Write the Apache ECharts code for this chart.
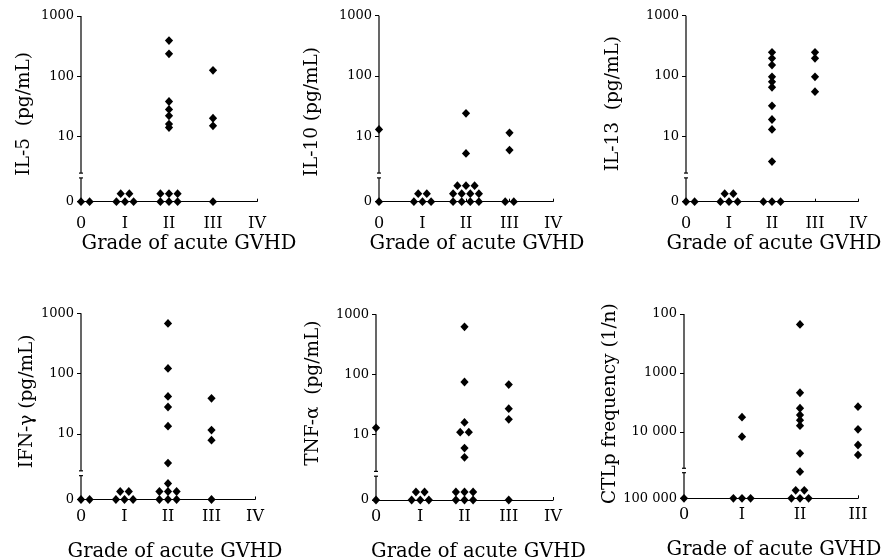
<!DOCTYPE html>
<html><head><meta charset="utf-8">
<script src="https://cdn.jsdelivr.net/npm/echarts@6/dist/echarts.min.js"></script>
<style>html,body{margin:0;padding:0;background:#fff}#c{width:886px;height:559px}</style>
</head><body><div id="c"></div>
<script>
// ---------- data ----------
const gradeLabels = ['0', 'I', 'II', 'III', 'IV'];
const ctlGradeLabels = ['0', 'I', 'II', 'III'];
const pgTickValues = [0, 10, 100, 1000];
const pgTickLabels = ['0', '10', '100', '1000'];
const ctlTickValues = [100, 1000, 10000, 100000];
const ctlTickLabels = ['100', '1000', '10 000', '100 000'];
const xTitle = 'Grade of acute GVHD';

// values per GVHD grade (0, I, II, III); 0 = undetectable
const il5 = [[0, 0], [0, 0, 0, 0, 0], [390, 235, 38, 28, 22, 16, 14, 0, 0, 0, 0, 0, 0], [125, 20, 15, 0]];
const il10 = [[13, 0], [0, 0, 0, 0, 0], [24, 5.2, 0, 0, 0, 0, 0, 0, 0, 0, 0, 0, 0], [11.4, 5.9, 0, 0]];
const il13 = [[0, 0], [0, 0, 0, 0, 0], [247, 196, 152, 97, 80, 65, 32, 19, 13, 3.8, 0, 0, 0], [247, 196, 97, 55]];
const ifng = [[0, 0], [0, 0, 0, 0, 0], [680, 122, 42, 28, 13.5, 3.3, 0, 0, 0, 0, 0, 0, 0], [39, 11.6, 7.9, 0]];
const tnfa = [[13, 0], [0, 0, 0, 0, 0], [620, 75, 16, 11, 11, 6, 4.2, 0, 0, 0, 0, 0, 0], [68, 27, 18, 0]];
// CTLp frequency, 1/n (n values); 100000 = below detection
const ctlp = [[100000], [5600, 12000, 100000, 100000, 100000],
  [150, 2160, 3960, 5150, 6300, 7820, 23000, 47000, 100000, 100000, 100000, 100000, 100000],
  [3720, 9000, 16600, 24500]];

// ---------- axis transforms (broken log axes) ----------
const ZERO_POS = -0.085, PG_BREAK = [0.39, 0.31];
const FLOOR_POS = 5.124, CTL_BREAK = [4.615, 4.69];
const pgToAxis = v => v <= 0 ? ZERO_POS : Math.log10(v);
const ctlToAxis = v => v >= 100000 ? FLOOR_POS : Math.log10(v);

const COL_GAP = 8.6, ROW_GAP = 8;

// dot-plot layout of identical values: rows centred on the category
function layoutGroups(groups, toAxis) {
  const out = [];
  groups.forEach((vals, c) => {
    const counts = new Map();
    vals.forEach(v => counts.set(v, (counts.get(v) || 0) + 1));
    counts.forEach((n, v) => {
      const perRow = Math.max(3, Math.ceil(Math.sqrt(n)));
      let left = n, row = 0;
      const widest = Math.min(n, perRow);
      const shift = c === 0 ? (widest - 1) / 2 : 0;
      while (left > 0) {
        const k = Math.min(perRow, left);
        for (let j = 0; j < k; j++) out.push([c, toAxis(v), j - (k - 1) / 2 + shift, row]);
        left -= k; row++;
      }
    });
  });
  return out;
}

const panels = [
  { vals: il5, name: 'IL-5  (pg/mL)', grid: [81, 16, 176, 185.7], yGap: 47, yShift: 5, xShift: 20, xGap: 32 },
  { vals: il10, name: 'IL-10 (pg/mL)', grid: [379, 15.7, 174, 186], yGap: 57, yShift: 3, xShift: 11, xGap: 32 },
  { vals: il13, name: 'IL-13  (pg/mL)', grid: [686, 15.7, 172, 186], yGap: 63, yShift: -5, xShift: 2, xGap: 32 },
  { vals: ifng, name: 'IFN-\u03b3 (pg/mL)', grid: [81, 313.3, 174, 186.2], yGap: 43, yShift: -5, xShift: 7, xGap: 42 },
  { vals: tnfa, name: 'TNF-\u03b1  (pg/mL)', grid: [376, 314.3, 177, 185.7], yGap: 53, yShift: -14, xShift: 14, xGap: 42 },
  { vals: ctlp, name: 'CTLp frequency (1/n)', grid: [684, 314, 174, 184.3], yGap: 60, yShift: -2.5, xShift: 3, xGap: 42, ctl: true }
];

const FONT = 'DejaVu Serif';
const grids = [], xAxes = [], yAxes = [], series = [];

function diamond(x, y) {
  return [[x, y - 4.4], [x + 4.1, y], [x, y + 4.4], [x - 4.1, y]];
}

panels.forEach((p, i) => {
  const ctl = !!p.ctl;
  const toAxis = ctl ? ctlToAxis : pgToAxis;
  const cats = ctl ? ctlGradeLabels : gradeLabels;
  const tickVals = ctl ? ctlTickValues : pgTickValues;
  const tickLabs = ctl ? ctlTickLabels : pgTickLabels;
  const axisTicks = tickVals.map(toAxis);
  const yMin = ctl ? 2 : ZERO_POS;
  const yMax = ctl ? FLOOR_POS : 3;
  const yTopVal = ctl ? 2 : 3, yBotVal = ctl ? FLOOR_POS : ZERO_POS;
  const brk = ctl ? CTL_BREAK : PG_BREAK;
  const xMax = cats.length - 1;

  grids.push({ left: p.grid[0], top: p.grid[1], width: p.grid[2], height: p.grid[3],
    containLabel: false, outerBoundsMode: 'none' });
  const ys = p.yShift;
  xAxes.push({
    gridIndex: i, type: 'value', min: 0, max: xMax, interval: 1,
    axisLine: { show: true, onZero: false, lineStyle: { color: '#000', width: 1.2 } },
    axisTick: { show: true, inside: true, length: 3, lineStyle: { color: '#000', width: 1 } },
    axisLabel: { margin: i < 3 ? 14 : 9, color: '#000', fontFamily: FONT, fontSize: 16,
      formatter: v => cats[Math.round(v)] },
    splitLine: { show: false },
    name: xTitle, nameLocation: 'middle', nameGap: p.xGap,
    nameTextStyle: { color: '#000', fontFamily: FONT, fontSize: 19.5, padding: [0, 0, 0, 2 * p.xShift] }
  });
  yAxes.push({
    gridIndex: i, type: 'value', min: yMin, max: yMax, inverse: ctl,
    axisLine: { show: false },
    axisTick: { show: true, length: 4, customValues: axisTicks, lineStyle: { color: '#000', width: 1 } },
    axisLabel: { customValues: axisTicks, margin: 7, color: '#000', fontFamily: FONT, fontSize: 13,
      formatter: v => {
        let best = 0, d = Infinity;
        axisTicks.forEach((t, k) => { if (Math.abs(t - v) < d) { d = Math.abs(t - v); best = k; } });
        return tickLabs[best];
      } },
    splitLine: { show: false },
    name: p.name, nameLocation: 'middle', nameGap: p.yGap,
    nameTextStyle: { color: '#000', fontFamily: FONT, fontSize: 18.5,
      padding: ys >= 0 ? [0, 2 * ys, 0, 0] : [0, 0, 0, -2 * ys] }
  });

  // y axis line with a break
  series.push({
    type: 'custom', xAxisIndex: i, yAxisIndex: i, clip: false, silent: true, z: 1,
    data: [[0, yTopVal]],
    renderItem: (params, api) => {
      const a = api.coord([0, yTopVal]);
      const b = api.coord([0, brk[0]]);
      const c = api.coord([0, brk[1]]);
      const d = api.coord([0, yBotVal]);
      const st = { stroke: '#000', lineWidth: 1.2 };
      return { type: 'group', children: [
        { type: 'line', shape: { x1: a[0], y1: a[1], x2: b[0], y2: b[1] }, style: st },
        { type: 'line', shape: { x1: b[0] - 2, y1: b[1], x2: b[0] + 2, y2: b[1] }, style: st },
        { type: 'line', shape: { x1: c[0] - 2, y1: c[1], x2: c[0] + 2, y2: c[1] }, style: st },
        { type: 'line', shape: { x1: c[0], y1: c[1], x2: d[0], y2: d[1] }, style: st }
      ] };
    }
  });

  // data points
  series.push({
    type: 'custom', xAxisIndex: i, yAxisIndex: i, clip: false, z: 5,
    encode: { x: 0, y: 1 },
    data: layoutGroups(p.vals, toAxis),
    renderItem: (params, api) => {
      const pt = api.coord([api.value(0), api.value(1)]);
      const x = pt[0] + api.value(2) * COL_GAP;
      const y = pt[1] - api.value(3) * ROW_GAP;
      return { type: 'polygon', shape: { points: diamond(x, y) }, style: { fill: '#000' } };
    }
  });
});

const chart = echarts.init(document.getElementById('c'), null, { renderer: 'canvas' });
chart.setOption({
  animation: false,
  backgroundColor: '#fff',
  textStyle: { fontFamily: FONT },
  grid: grids, xAxis: xAxes, yAxis: yAxes, series: series
});
</script></body></html>
